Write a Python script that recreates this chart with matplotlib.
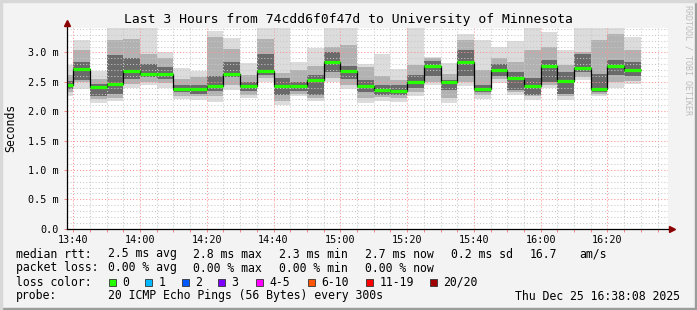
import matplotlib
matplotlib.use('Agg')
import matplotlib.pyplot as plt
import matplotlib.dates as mdates
from matplotlib.ticker import MultipleLocator, FuncFormatter
from matplotlib.patches import Rectangle
import pandas as pd

# ---------------- data ----------------
title = "Last 3 Hours from 74cdd6f0f47d to University of Minnesota"
first_bar_start = "2025-12-25 13:35"
view_start = "2025-12-25 13:38:08"
view_end = "2025-12-25 16:38:08"

median_ms = [2.44, 2.72, 2.415, 2.46, 2.69, 2.63, 2.63, 2.38, 2.38, 2.42,
             2.63, 2.42, 2.69, 2.42, 2.42, 2.53, 2.83, 2.68, 2.42, 2.36,
             2.35, 2.50, 2.76, 2.49, 2.84, 2.38, 2.70, 2.56, 2.43, 2.77,
             2.51, 2.74, 2.38, 2.76, 2.70]
min_ms = [2.25, 2.37, 2.14, 2.18, 2.40, 2.44, 2.40, 2.21, 2.19, 2.16,
          2.36, 2.22, 2.50, 2.10, 2.25, 2.18, 2.50, 2.37, 2.14, 2.18,
          2.16, 2.26, 2.44, 2.14, 2.43, 2.21, 2.48, 2.27, 2.19, 2.39,
          2.19, 2.53, 2.25, 2.40, 2.47]
max_ms = [2.78, 3.21, 2.69, 3.45, 3.45, 3.45, 3.00, 2.73, 2.69, 3.37,
          3.25, 2.82, 3.45, 3.45, 2.84, 3.08, 3.45, 3.45, 2.81, 2.98,
          2.72, 3.45, 2.93, 2.82, 3.31, 3.21, 3.10, 3.20, 3.45, 3.34,
          3.04, 3.45, 3.45, 3.45, 3.27]
mid_lo = [2.32, 2.50, 2.20, 2.22, 2.46, 2.50, 2.48, 2.26, 2.25, 2.25,
          2.45, 2.28, 2.56, 2.18, 2.30, 2.22, 2.56, 2.45, 2.22, 2.24,
          2.22, 2.32, 2.50, 2.22, 2.50, 2.28, 2.54, 2.32, 2.25, 2.45,
          2.25, 2.58, 2.30, 2.50, 2.52]
mid_hi = [2.62, 3.04, 2.55, 3.21, 3.22, 2.98, 2.90, 2.55, 2.58, 3.27,
          3.05, 2.62, 3.22, 2.65, 2.70, 2.76, 3.10, 3.13, 2.75, 2.60,
          2.53, 2.79, 2.90, 2.64, 3.21, 2.70, 2.90, 2.84, 3.04, 3.10,
          2.79, 3.01, 3.21, 3.32, 3.04]
core_lo = [2.37, 2.53, 2.25, 2.30, 2.55, 2.58, 2.55, 2.32, 2.30, 2.35,
           2.58, 2.35, 2.62, 2.27, 2.35, 2.27, 2.67, 2.55, 2.33, 2.27,
           2.27, 2.39, 2.60, 2.36, 2.59, 2.32, 2.60, 2.36, 2.27, 2.50,
           2.30, 2.67, 2.32, 2.62, 2.60]
core_hi = [2.52, 2.84, 2.47, 2.96, 2.90, 2.80, 2.75, 2.45, 2.45, 2.59,
           2.84, 2.50, 2.98, 2.56, 2.50, 2.61, 3.00, 2.76, 2.53, 2.45,
           2.45, 2.61, 2.85, 2.53, 3.04, 2.45, 2.80, 2.67, 2.56, 2.87,
           2.67, 2.98, 2.64, 2.87, 2.84]

y_ticks = [0.0, 0.5, 1.0, 1.5, 2.0, 2.5, 3.0]
y_max = 3.41

stats_line1 = [("median rtt:", 16), ("2.5 ms avg", 107.5), ("2.8 ms max", 193),
               ("2.3 ms min", 279), ("2.7 ms now", 365), ("0.2 ms sd", 451),
               ("16.7", 530), ("am/s", 579)]
stats_line2 = [("packet loss:", 16), ("0.00 % avg", 107.5), ("0.00 % max", 193),
               ("0.00 % min", 279), ("0.00 % now", 365)]
loss_labels = ["0", "1", "2", "3", "4-5", "6-10", "11-19", "20/20"]
loss_colors = ["#26ff00", "#00b8ff", "#0059ff", "#7e00ff", "#ff00ff",
               "#ff5500", "#ff0000", "#a10000"]
loss_box_x = [109, 145, 182, 218, 256, 308, 366, 430]
probe_text = "20 ICMP Echo Pings (56 Bytes) every 300s"
stamp_text = "Thu Dec 25 16:38:08 2025"

# ---------------- figure ----------------
W, H = 697, 310
fig = plt.figure(figsize=(W / 100, H / 100), dpi=100)
fig.patch.set_facecolor('#f3f3f3')
mono = 'DejaVu Sans Mono'

# 3D border
fig.patches.append(Rectangle((0, 0), 1, 2 / H, transform=fig.transFigure,
                             color='#9c9c9c', zorder=0))
fig.patches.append(Rectangle((1 - 2 / W, 0), 2 / W, 1, transform=fig.transFigure,
                             color='#9c9c9c', zorder=0))
fig.patches.append(Rectangle((0, 1 - 2 / H), 1, 2 / H, transform=fig.transFigure,
                             color='#d8d8d8', zorder=0))
fig.patches.append(Rectangle((0, 0), 2 / W, 1, transform=fig.transFigure,
                             color='#d8d8d8', zorder=0))

ax_l, ax_r, ax_t, ax_b = 67, 668, 28.3, 228.7
ax = fig.add_axes([ax_l / W, (H - ax_b) / H, (ax_r - ax_l) / W, (ax_b - ax_t) / H])
ax.set_facecolor('white')

starts = pd.date_range(first_bar_start, periods=len(median_ms), freq="5min")
starts_num = mdates.date2num(starts.to_pydatetime())
width = 5 / 1440.0
ends_num = starts_num + width

# smoke
ax.bar(starts_num, [b - a for a, b in zip(min_ms, max_ms)], bottom=min_ms,
       width=width, align='edge', color='#dcdcdc', linewidth=0, zorder=1)
ax.bar(starts_num, [b - a for a, b in zip(mid_lo, mid_hi)], bottom=mid_lo,
       width=width, align='edge', color='#b2b2b2', linewidth=0, zorder=1.1)
ax.bar(starts_num, [b - a for a, b in zip(core_lo, core_hi)], bottom=core_lo,
       width=width, align='edge', color='#6a6a6a', linewidth=0, zorder=1.2)

# grid on top
ax.yaxis.set_major_locator(MultipleLocator(0.5))
ax.yaxis.set_minor_locator(MultipleLocator(0.1))
ax.xaxis.set_major_locator(mdates.MinuteLocator(byminute=[0, 20, 40]))
ax.xaxis.set_minor_locator(mdates.MinuteLocator(byminute=range(0, 60, 5)))
ax.xaxis.set_major_formatter(mdates.DateFormatter('%H:%M'))
ax.yaxis.set_major_formatter(FuncFormatter(lambda v, p: "0.0" if abs(v) < 1e-9 else f"{v:.1f} m"))
ax.set_axisbelow(False)
ax.grid(which='minor', color='#c8c8c8', linestyle=(0, (1, 2)), linewidth=0.75, zorder=2)
ax.grid(which='major', color='#ff9090', linestyle=(0, (1, 2)), linewidth=0.75, zorder=2.1)

# median
ax.stairs(median_ms, list(starts_num) + [ends_num[-1]], baseline=None,
          color='black', linewidth=0.9, zorder=3)
ax.hlines(median_ms, starts_num, ends_num, colors=loss_colors[0], linewidth=2.3,
          capstyle='butt', zorder=4)

ax.set_xlim(mdates.date2num(pd.Timestamp(view_start).to_pydatetime()),
            mdates.date2num(pd.Timestamp(view_end).to_pydatetime()))
ax.set_ylim(0, y_max)
ax.set_yticks(y_ticks)

for s in ax.spines.values():
    s.set_visible(False)
ax.tick_params(which='both', direction='out', labelsize=7.3, length=2,
               color='#ff8080', width=0.7)
ax.tick_params(axis='x', which='major', pad=2.5)
ax.tick_params(axis='y', which='major', pad=4)
ax.tick_params(axis='y', which='minor', length=0)
for lab in ax.get_xticklabels() + ax.get_yticklabels():
    lab.set_fontfamily(mono)

# axis lines with arrows
ax.plot([0, 1 + 4 / 601], [0, 0], transform=ax.transAxes, color='black',
        lw=0.9, clip_on=False, zorder=5)
ax.plot([0, 0], [0, 1 + 4 / 200], transform=ax.transAxes, color='black',
        lw=0.9, clip_on=False, zorder=5)
ax.plot([1 + 4 / 601], [0], marker='>', transform=ax.transAxes, color='#8b0000',
        markersize=4, clip_on=False, zorder=6)
ax.plot([0], [1 + 5 / 200], marker='^', transform=ax.transAxes, color='#8b0000',
        markersize=4, clip_on=False, zorder=6)

def fx(px):
    return px / W

def fy(py):
    return 1 - py / H

fig.text(fx(348), fy(19), title, family=mono, fontsize=9.4, ha='center', va='center')
fig.text(fx(10.5), fy(128), "Seconds", family=mono, fontsize=8.3, rotation=90,
         ha='center', va='center')
fig.text(fx(688), fy(60), "RRDTOOL / TOBI OETIKER", family=mono, fontsize=6,
         rotation=270, ha='center', va='center', color='#bdbdbd')

for txt, px in stats_line1:
    fig.text(fx(px), fy(254), txt, family=mono, fontsize=8.3, ha='left', va='center')
for txt, px in stats_line2:
    fig.text(fx(px), fy(268), txt, family=mono, fontsize=8.3, ha='left', va='center')
fig.text(fx(16), fy(282), "loss color:", family=mono, fontsize=8.3, ha='left', va='center')
for lab, col, bx in zip(loss_labels, loss_colors, loss_box_x):
    fig.patches.append(Rectangle((fx(bx), fy(285.5)), 7 / W, 7 / H,
                                 transform=fig.transFigure, facecolor=col,
                                 edgecolor='#333333', linewidth=0.6))
    fig.text(fx(bx + 13.5), fy(282), lab, family=mono, fontsize=8.3, ha='left', va='center')
fig.text(fx(16), fy(296), "probe:", family=mono, fontsize=8.3, ha='left', va='center')
fig.text(fx(107.5), fy(296), probe_text, family=mono, fontsize=8.3, ha='left', va='center')
fig.text(fx(680), fy(296), stamp_text, family=mono, fontsize=8.3, ha='right', va='center')

fig.savefig('out.png', dpi=100, facecolor=fig.get_facecolor())
